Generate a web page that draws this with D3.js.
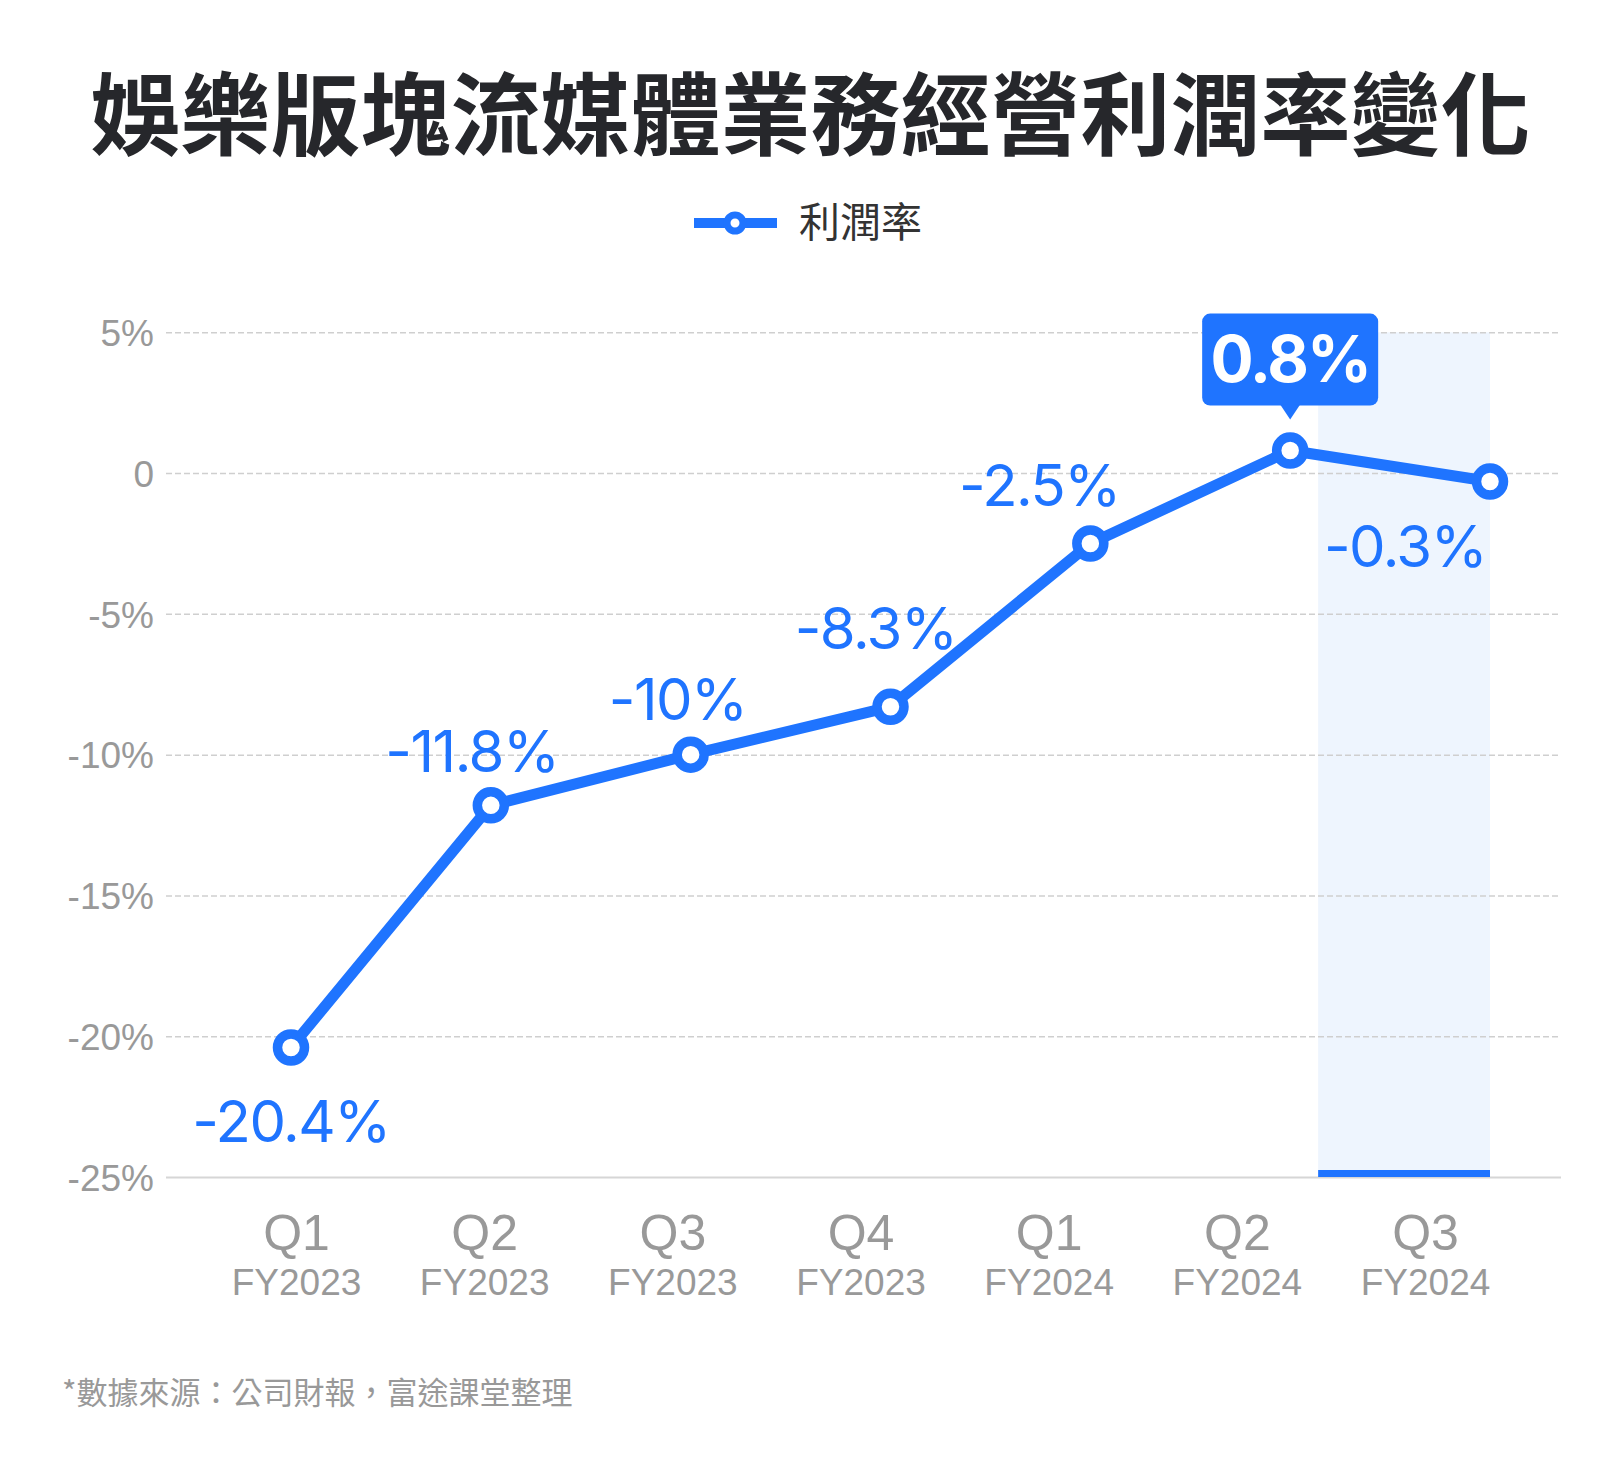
<!DOCTYPE html>
<html>
<head>
<meta charset="utf-8">
<script src="https://cdn.jsdelivr.net/npm/d3@7"></script>
<style>
  html, body { margin: 0; padding: 0; background: #fff; }
  svg { display: block; }
  .grid line { stroke: #cfcfcf; stroke-width: 1.5; stroke-dasharray: 6 3; }
  .grid text { font-family: "Liberation Sans", Arial, sans-serif; font-size: 37px; fill: #999; }
  .xaxis text { font-family: "Liberation Sans", Arial, sans-serif; fill: #999; }
  .val { font-family: Inter, "Noto Sans", sans-serif; font-size: 58px; fill: #1f74ff; letter-spacing: -1.5px; }
</style>
</head>
<body>
<div id="chart"></div>
<script>
// --- datos ---
const quarters = ["Q1", "Q2", "Q3", "Q4", "Q1", "Q2", "Q3"];
const years = ["FY2023", "FY2023", "FY2023", "FY2023", "FY2024", "FY2024", "FY2024"];
const margin = [-20.4, -11.8, -10, -8.3, -2.5, 0.8, -0.3];
const valueLabels = ["-20.4%", "-11.8%", "-10%", "-8.3%", "-2.5%", "0.8%", "-0.3%"];
const yTicks = [5, 0, -5, -10, -15, -20, -25];
const seriesName = "利潤率";
const title = "娛樂版塊流媒體業務經營利潤率變化";
const source = "*數據來源：公司財報，富途課堂整理";

// posiciones de las etiquetas respecto al punto (dx, dy de la línea base)
const labelOffset = [[0, 95], [-19, -33], [-13, -35], [-15, -58], [-51, -37], null, [-85, 85]];
const highlightIndex = 5;

const W = 1621, H = 1458;
const blue = "#1f74ff";
const keys = quarters.map((q, i) => q + " " + years[i]);
const data = keys.map((k, i) => ({ key: k, q: quarters[i], fy: years[i], v: margin[i], label: valueLabels[i] }));

const svg = d3.select("#chart").append("svg")
  .attr("width", W).attr("height", H)
  .attr("viewBox", `0 0 ${W} ${H}`);

// --- escalas ---
const gridLeft = 166, gridRight = 1561;
const y = d3.scaleLinear().domain([-25, 5]).range([1177, 332.3]);
const x = d3.scalePoint().domain(keys).range([291, 1490]);
const xLab = d3.scalePoint().domain(keys).range([296, 1425]);

// --- título ---
svg.append("text")
  .attr("x", W / 2).attr("y", 148)
  .attr("text-anchor", "middle")
  .style("font-family", '"Noto Sans CJK TC", "Noto Sans CJK SC", sans-serif')
  .style("font-weight", 700)
  .style("font-size", "90px")
  .style("fill", "#26272b")
  .text(title);

// --- leyenda ---
const legend = svg.append("g").attr("transform", "translate(694,223)");
legend.append("line").attr("x1", 0).attr("x2", 83)
  .attr("stroke", blue).attr("stroke-width", 10);
legend.append("circle").attr("cx", 41).attr("r", 8)
  .attr("fill", "#fff").attr("stroke", blue).attr("stroke-width", 7);
legend.append("text").attr("x", 105).attr("y", 14)
  .style("font-family", '"Noto Sans CJK TC", sans-serif')
  .style("font-size", "41px").style("fill", "#333")
  .text(seriesName);

// --- banda resaltada (último trimestre) ---
const last = keys[keys.length - 1];
const bandW = x.step() * 0.86;
svg.append("rect")
  .attr("x", x(last) - bandW).attr("width", bandW)
  .attr("y", y(5)).attr("height", y(-25) - y(5))
  .attr("fill", "#eef5fe");

// --- eje Y con rejilla ---
const gridG = svg.append("g").attr("class", "grid")
  .attr("transform", `translate(${gridLeft},0)`)
  .call(d3.axisLeft(y)
    .tickValues(yTicks)
    .tickSize(-(gridRight - gridLeft))
    .tickPadding(12)
    .tickFormat(d => d === 0 ? "0" : d + "%"));
gridG.select(".domain").remove();
gridG.selectAll(".tick text").attr("dy", "0.36em");
gridG.selectAll(".tick").filter(d => d === -25).select("line")
  .style("stroke-dasharray", "none").style("stroke", "#d6d6d6").style("stroke-width", 2);

svg.append("rect")
  .attr("x", x(last) - bandW).attr("width", bandW)
  .attr("y", y(-25) - 7).attr("height", 7)
  .attr("fill", blue);

// --- eje X ---
const xAxisG = svg.append("g").attr("class", "xaxis")
  .attr("transform", `translate(0,${y(-25)})`)
  .call(d3.axisBottom(xLab).tickSize(0));
xAxisG.select(".domain").remove();
xAxisG.selectAll(".tick text").each(function (k) {
  const d = data[keys.indexOf(k)];
  const t = d3.select(this).text(null).attr("y", 0).attr("dy", null);
  t.append("tspan").attr("x", 0).attr("y", 73).style("font-size", "50px").text(d.q);
  t.append("tspan").attr("x", 0).attr("y", 118).style("font-size", "37px").text(d.fy);
});

// --- línea ---
const line = d3.line().x(d => x(d.key)).y(d => y(d.v));
svg.append("path").datum(data)
  .attr("d", line)
  .attr("fill", "none")
  .attr("stroke", blue)
  .attr("stroke-width", 11)
  .attr("stroke-linejoin", "round");

svg.selectAll(".dot").data(data).enter().append("circle")
  .attr("class", "dot")
  .attr("cx", d => x(d.key)).attr("cy", d => y(d.v))
  .attr("r", 13.5)
  .attr("fill", "#fff").attr("stroke", blue).attr("stroke-width", 9.5);

// --- etiquetas de valor ---
svg.selectAll(".val").data(data.filter((d, i) => labelOffset[i])).enter().append("text")
  .attr("class", "val")
  .attr("text-anchor", "middle")
  .attr("x", d => x(d.key) + labelOffset[keys.indexOf(d.key)][0])
  .attr("y", d => y(d.v) + labelOffset[keys.indexOf(d.key)][1])
  .text(d => d.label);

// --- globo del máximo ---
const hd = data[highlightIndex];
const hx = x(hd.key), hy = y(hd.v);
const tip = svg.append("g").attr("transform", `translate(${hx},${hy})`);
tip.append("rect")
  .attr("x", -88).attr("y", -137).attr("width", 176).attr("height", 92)
  .attr("rx", 8).attr("fill", blue);
tip.append("path")
  .attr("d", "M-10,-46 L10,-46 L0,-31 Z")
  .attr("fill", blue);
tip.append("text")
  .attr("text-anchor", "middle").attr("y", -69)
  .style("font-family", "Inter, sans-serif")
  .style("font-weight", 700).style("font-size", "64px")
  .style("letter-spacing", "-2px")
  .style("fill", "#fff")
  .text(hd.label);

// --- fuente ---
svg.append("text")
  .attr("x", 62).attr("y", 1404)
  .style("font-family", '"Noto Sans CJK TC", sans-serif')
  .style("font-size", "31px").style("fill", "#999")
  .text(source);
</script>
</body>
</html>
